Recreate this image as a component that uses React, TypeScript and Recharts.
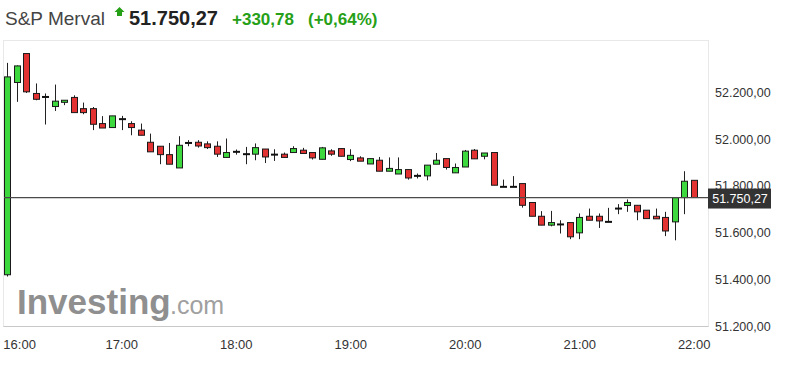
import React from 'react';
import { ComposedChart, Bar, XAxis, YAxis, ReferenceLine } from 'recharts';

// 5-minute candles, 16:00 .. 22:00
const timeLabels = ['16:00', '17:00', '18:00', '19:00', '20:00', '21:00', '22:00'];
const timeTicks = [0, 12, 24, 36, 48, 60, 72];
const priceTicks = [51200, 51400, 51600, 51800, 52000, 52200];

const opens = [
  51419.49, 52243, 52367, 52196, 52181, 52140, 52158, 52179, 52131, 52131, 52067, 52050, 52086, 52067, 52039,
  51987, 51970, 51934, 51877, 51984, 51987, 51980, 51970, 51922, 51946, 51936, 51936, 51958, 51934, 51936,
  51943, 51953, 51943, 51914, 51950, 51960, 51913, 51920, 51894, 51910, 51863, 51851, 51870, 51843, 51843,
  51893, 51917, 51856, 51881, 51953, 51927, 51943, 51796, 51796, 51810, 51729, 51670, 51632, 51635, 51643,
  51599, 51670, 51670, 51646, 51703, 51716, 51717, 51696, 51670, 51665, 51646, 51750, 51824,
];
const highs = [
  52327, 52316, 52367, 52239, 52196, 52234, 52167, 52188, 52157, 52138, 52099, 52100, 52100, 52077, 52067,
  52024, 51970, 51984, 52013, 51996, 51996, 51991, 51991, 52003, 51956, 51967, 51982, 51958, 51957, 51943,
  51970, 51963, 51943, 51967, 51957, 51960, 51957, 51927, 51917, 51924, 51922, 51922, 51870, 51853, 51889,
  51941, 51917, 51896, 51954, 51958, 51941, 51943, 51827, 51842, 51810, 51729, 51692, 51693, 51653, 51643,
  51682, 51703, 51682, 51706, 51722, 51742, 51717, 51696, 51703, 51689, 51750, 51863, 51824,
];
const lows = [
  51412, 52160, 52198, 52167, 52063, 52121, 52146, 52114, 52107, 52039, 52048, 52050, 52039, 52017, 52017,
  51946, 51893, 51893, 51877, 51970, 51964, 51958, 51924, 51922, 51934, 51893, 51910, 51898, 51907, 51922,
  51943, 51939, 51913, 51914, 51929, 51927, 51906, 51906, 51894, 51863, 51863, 51851, 51827, 51832, 51824,
  51893, 51870, 51856, 51881, 51916, 51914, 51803, 51796, 51796, 51707, 51670, 51632, 51627, 51596, 51572,
  51572, 51653, 51620, 51646, 51679, 51689, 51653, 51660, 51659, 51585, 51567, 51679, 51750.27,
];
const closes = [
  52267, 52314, 52203, 52171, 52181, 52163, 52167, 52114, 52114, 52064, 52048, 52100, 52086, 52050, 52017,
  51946, 51934, 51893, 51974, 51984, 51971, 51964, 51936, 51943, 51946, 51936, 51964, 51924, 51934, 51922,
  51960, 51939, 51920, 51963, 51936, 51927, 51931, 51906, 51917, 51863, 51875, 51870, 51834, 51843, 51889,
  51910, 51879, 51879, 51949, 51916, 51941, 51803, 51796, 51796, 51717, 51670, 51632, 51643, 51635, 51582,
  51665, 51653, 51650, 51646, 51703, 51729, 51689, 51660, 51659, 51607, 51750, 51820, 51750.27,
];

const lastPrice = 51750.27;
const change = '+330,78';
const changePct = '(+0,64%)';

const data = opens.map((o, i) => ({
  i,
  open: o,
  high: highs[i],
  low: lows[i],
  close: closes[i],
  range: [lows[i], highs[i]],
}));

const fmt = (v: number) => {
  const [a, b] = v.toFixed(2).split('.');
  return a.replace(/\B(?=(\d{3})+(?!\d))/g, '.') + ',' + b;
};

const FONT = '"Liberation Sans", Arial, sans-serif';
const GREEN = '#26a017';

const Candle = (props: any) => {
  const { x, y, width, height, payload } = props;
  const { open, close, high, low } = payload;
  const top0 = Math.min(y, y + height);
  const h = Math.abs(height);
  const k = h / (high - low);
  const yOf = (v: number) => top0 + (high - v) * k;
  const cx = Math.round(x + width / 2) + 0.5;
  const bTop = yOf(Math.max(open, close));
  const bBot = yOf(Math.min(open, close));
  const up = close > open;
  return (
    <g>
      <line x1={cx} x2={cx} y1={top0} y2={top0 + h} stroke="#222" strokeWidth={1} />
      {open === close ? (
        <line x1={cx - 3.5} x2={cx + 3.5} y1={bTop} y2={bTop} stroke="#111" strokeWidth={2} />
      ) : (
        <rect
          x={cx - 3}
          y={bTop}
          width={6}
          height={Math.max(bBot - bTop, 1)}
          fill={up ? '#3dd83d' : '#e33232'}
          stroke="#1a1a1a"
          strokeWidth={1}
        />
      )}
    </g>
  );
};

const TimeTick = (props: any) => {
  const { x, y, payload } = props;
  const idx = timeTicks.indexOf(payload.value);
  const first = idx === 0;
  return (
    <text
      x={first ? x - 4 : x}
      y={y}
      dy={15}
      textAnchor={first ? 'start' : 'middle'}
      fill="#333"
      fontSize={13}
      fontFamily={FONT}
    >
      {timeLabels[idx]}
    </text>
  );
};

const PriceTick = (props: any) => {
  const { x, y, payload } = props;
  return (
    <text x={x - 1} y={y} dy={4.5} textAnchor="start" fill="#333" fontSize={12.5} fontFamily={FONT}>
      {fmt(payload.value)}
    </text>
  );
};

const PriceLabel = (props: any) => {
  const { viewBox } = props;
  const right = viewBox.x + viewBox.width;
  const yy = viewBox.y;
  return (
    <g>
      <line x1={right} x2={right + 6} y1={yy} y2={yy} stroke="#555" />
      <rect x={right} y={yy - 9} width={63} height={20} fill="#333" />
      <text x={right + 32} y={yy + 5.5} textAnchor="middle" fill="#fff" fontSize={12.5} fontFamily={FONT}>
        {fmt(lastPrice)}
      </text>
    </g>
  );
};

export default function App() {
  return (
    <div style={{ position: 'absolute', left: 0, top: 0, width: 786, height: 366, background: '#fff', fontFamily: FONT }}>
      {/* plot frame */}
      <div
        style={{
          position: 'absolute',
          left: 3,
          top: 40,
          width: 704,
          height: 285,
          borderTop: '1px solid #e8e8e8',
          borderLeft: '1px solid #e8e8e8',
          borderRight: '1px solid #e8e8e8',
          borderBottom: '1px solid #c8c8c8',
        }}
      />
      <svg width={786} height={366} style={{ position: 'absolute', left: 0, top: 0 }}>
        <text x={5} y={25} fontSize={19} fill="#444" fontFamily={FONT}>
          S&amp;P Merval
        </text>
        <polygon points="119.5,7 124.5,12 122,12 122,16 117,16 117,12 114.5,12" fill={GREEN} />
        <text x={129} y={25} fontSize={20} fontWeight="bold" fill="#222" fontFamily={FONT}>
          {fmt(lastPrice)}
        </text>
        <text x={232} y={25} fontSize={17} fontWeight="bold" fill={GREEN} fontFamily={FONT}>
          {change}
        </text>
        <text x={308} y={25} fontSize={17} fontWeight="bold" fill={GREEN} fontFamily={FONT}>
          {changePct}
        </text>
        <text x={17} y={314} fontSize={35} fontWeight="bold" fill="#8f8f8f" fontFamily={FONT}>
          Investing
        </text>
        <text x={170} y={314} fontSize={25} fill="#a0a0a0" fontFamily={FONT}>
          .com
        </text>
      </svg>
      <div style={{ position: 'absolute', left: 0, top: 0 }}>
        <ComposedChart width={786} height={366} data={data} margin={{ top: 40, right: 0, bottom: 10, left: 4 }}>
          <XAxis
            dataKey="i"
            type="number"
            domain={[-0.35, 73.45]}
            ticks={timeTicks}
            tick={<TimeTick />}
            tickLine={false}
            axisLine={false}
            height={30}
            allowDataOverflow
          />
          <YAxis
            orientation="right"
            type="number"
            domain={[51200, 52425]}
            ticks={priceTicks}
            tick={<PriceTick />}
            tickLine={false}
            axisLine={false}
            width={78}
            allowDataOverflow
          />
          <ReferenceLine y={lastPrice} stroke="#4a4a4a" strokeWidth={1.2} label={<PriceLabel />} />
          <Bar dataKey="range" barSize={7} shape={<Candle />} isAnimationActive={false} />
        </ComposedChart>
      </div>
    </div>
  );
}
